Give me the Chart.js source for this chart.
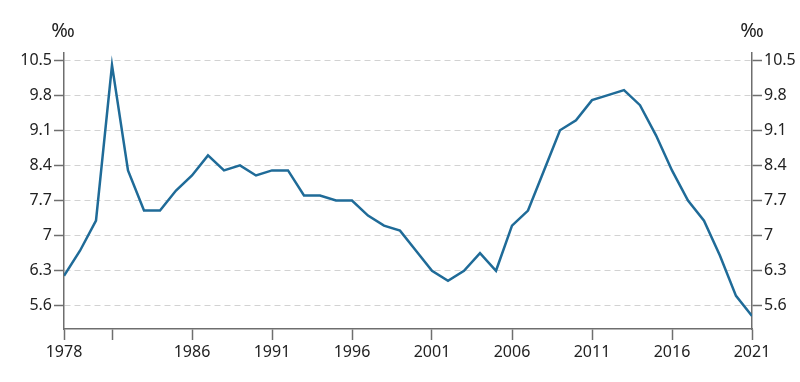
<!DOCTYPE html>
<html>
<head>
<meta charset="utf-8">
<script src="https://cdn.jsdelivr.net/npm/chart.js@4"></script>
<style>
  html, body { margin: 0; padding: 0; background: #fff; }
  #wrap { width: 800px; height: 382px; }
</style>
</head>
<body>
<div id="wrap"><canvas id="rateChart" width="800" height="382"></canvas></div>
<script>
const years = [];
for (let y = 1978; y <= 2021; y++) years.push(y);
const rates = [
  6.2, 6.7, 7.3, 10.4, 8.3, 7.5, 7.5, 7.9, 8.2, 8.6,
  8.3, 8.4, 8.2, 8.3, 8.3, 7.8, 7.8, 7.7, 7.7, 7.4,
  7.2, 7.1, 6.7, 6.3, 6.1, 6.3, 6.65, 6.3, 7.2, 7.5,
  8.3, 9.1, 9.3, 9.7, 9.8, 9.9, 9.6, 9.0, 8.3, 7.7,
  7.3, 6.6, 5.8, 5.4
];
const yTicks = [5.6, 6.3, 7, 7.7, 8.4, 9.1, 9.8, 10.5];
const xTicks = [1978, 1981, 1986, 1991, 1996, 2001, 2006, 2011, 2016, 2021];
const xHidden = [1981];
const unit = '‰';

const FONT = { family: '"Noto Sans", "Open Sans", sans-serif', size: 16 };
const AXIS = '#6e6e6e';

// unit marks above both y axes
const unitLabels = {
  id: 'unitLabels',
  afterDraw(chart) {
    const ctx = chart.ctx;
    ctx.save();
    ctx.font = '20px ' + FONT.family;
    ctx.fillStyle = '#222';
    ctx.textAlign = 'center';
    ctx.textBaseline = 'middle';
    ctx.fillText(unit, chart.scales.y.right - 1, 31);
    ctx.fillText(unit, chart.scales.y2.left, 31);
    ctx.restore();
  }
};

const yAxis = (pos, showGrid) => ({
  type: 'linear',
  position: pos,
  min: 5.14,
  max: 10.64,
  afterBuildTicks: s => { s.ticks = yTicks.map(v => ({ value: v })); },
  afterFit: s => { s.width = pos === 'left' ? 64 : 48; },
  ticks: {
    color: '#222', font: FONT, padding: 2,
    callback: v => String(v)
  },
  grid: {
    drawOnChartArea: showGrid,
    color: '#d2d2d2',
    lineWidth: 1,
    tickLength: 10,
    tickColor: AXIS,
    tickWidth: 1.5
  },
  border: { display: true, color: AXIS, width: 1.5, dash: [6, 4] }
});

new Chart(document.getElementById('rateChart'), {
  type: 'line',
  data: {
    datasets: [{
      data: years.map((y, i) => ({ x: y, y: rates[i] })),
      borderColor: '#1f6b98',
      borderWidth: 2.5,
      pointRadius: 0,
      tension: 0,
      fill: false
    }]
  },
  options: {
    responsive: false,
    animation: false,
    layout: { padding: { top: 53, left: 0, right: 0, bottom: 0 } },
    plugins: { legend: { display: false }, tooltip: { enabled: false } },
    scales: {
      x: {
        type: 'linear',
        min: 1978,
        max: 2021,
        afterBuildTicks: s => { s.ticks = xTicks.map(v => ({ value: v })); },
        afterFit: s => { s.height = 53; },
        ticks: {
          color: '#222', font: FONT, padding: 3, maxRotation: 0, autoSkip: false,
          callback: v => xHidden.includes(v) ? '' : String(v)
        },
        grid: { drawOnChartArea: false, tickLength: 11, tickColor: AXIS, tickWidth: 1.5 },
        border: { display: true, color: AXIS, width: 1.5 }
      },
      y: yAxis('left', true),
      y2: yAxis('right', false)
    }
  },
  plugins: [unitLabels]
});
</script>
</body>
</html>
